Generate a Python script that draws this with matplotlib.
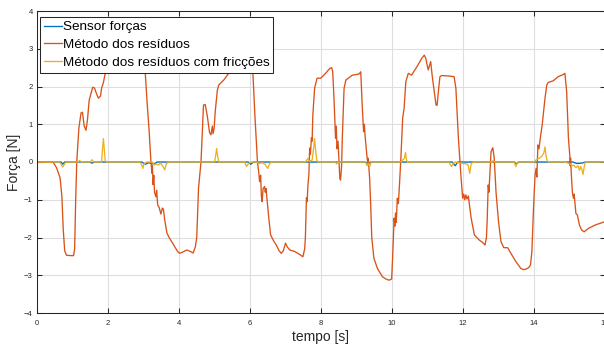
import matplotlib
matplotlib.use("Agg")
import matplotlib.pyplot as plt

plt.rcParams['font.family'] = ['Liberation Sans', 'DejaVu Sans']

# sensor de força (quase sempre zero)
t_sensor = [0, 0.68, 0.72, 0.78, 1.48, 1.55, 1.62, 2.95, 3.05, 3.15, 3.3, 3.38,
            5.95, 6.02, 6.1, 9.25, 9.32, 9.4, 11.7, 11.78, 11.85, 13.45, 13.5,
            13.58, 15.1, 15.2, 15.35, 15.45, 16]
f_sensor = [0, 0, -0.06, 0, 0, -0.03, 0, 0, -0.06, -0.02, -0.06, 0,
            0, -0.06, 0, 0, -0.05, 0, 0, -0.1, 0, 0, -0.05,
            0, 0, -0.04, -0.03, 0, 0]

# método dos resíduos
t_res = [0.0, 0.45, 0.55, 0.65, 0.70, 0.74, 0.78, 0.83, 0.95, 1.03, 1.06, 1.09,
         1.12, 1.18, 1.24, 1.28, 1.33, 1.38, 1.42, 1.47, 1.57, 1.62, 1.68, 1.73,
         1.79, 1.82, 1.87, 1.94, 2.0, 2.2, 2.5, 2.8, 2.95, 3.0,
         3.04, 3.10, 3.16, 3.21, 3.24, 3.25, 3.27, 3.29, 3.31, 3.35, 3.37, 3.40,
         3.44, 3.49, 3.53, 3.56, 3.60, 3.66, 3.72, 3.82, 3.96, 4.02, 4.12, 4.22,
         4.32, 4.40, 4.46, 4.50, 4.55, 4.62, 4.69, 4.74, 4.80, 4.86, 4.90, 4.94,
         4.96, 4.99, 5.02, 5.08, 5.12, 5.26, 5.40, 5.6, 5.8, 5.95, 6.02,
         6.08, 6.14, 6.21, 6.25, 6.27, 6.30, 6.32, 6.34, 6.37, 6.41, 6.43, 6.45,
         6.49, 6.53, 6.58, 6.66, 6.74, 6.82, 6.88, 6.94, 7.00, 7.05, 7.12, 7.26,
         7.40, 7.49, 7.54, 7.56, 7.59, 7.61, 7.63, 7.66, 7.68, 7.70, 7.73, 7.75,
         7.77, 7.82, 7.89, 7.99, 8.10, 8.25, 8.30, 8.33, 8.37, 8.41, 8.43, 8.45,
         8.48, 8.53, 8.55, 8.58, 8.60, 8.65, 8.70, 8.88, 9.07, 9.12, 9.16, 9.20,
         9.22, 9.25, 9.30, 9.32, 9.33, 9.37, 9.40, 9.43, 9.49, 9.59, 9.73, 9.85,
         9.92, 9.99, 10.02, 10.06, 10.08, 10.10, 10.12, 10.15, 10.18, 10.21, 10.25,
         10.30, 10.34, 10.39, 10.46, 10.55, 10.70, 10.84, 10.91, 10.95, 11.02,
         11.09, 11.13, 11.24, 11.27, 11.31, 11.35, 11.40, 11.59, 11.75, 11.80,
         11.87, 11.92, 11.94, 11.96, 11.99, 12.02, 12.05, 12.08, 12.11, 12.15,
         12.19, 12.23, 12.32, 12.46, 12.55, 12.62, 12.66, 12.68, 12.71, 12.73,
         12.79, 12.84, 12.88, 12.93, 13.00, 13.07, 13.15, 13.26, 13.35, 13.49,
         13.63, 13.70, 13.77, 13.85, 13.90, 13.94, 13.99, 14.03, 14.06, 14.08,
         14.11, 14.14, 14.19, 14.23, 14.26, 14.31, 14.36, 14.40, 14.54, 14.68,
         14.83, 14.87, 14.92, 14.97, 15.01, 15.02, 15.03, 15.05, 15.08, 15.11,
         15.13, 15.18, 15.22, 15.28, 15.34, 15.41, 15.53, 15.72, 16.0]
f_res = [0, 0, -0.15, -0.42, -0.9, -1.8, -2.35, -2.47, -2.48, -2.48, -2.3, -1.0,
         0.0, 0.9, 1.3, 1.32, 0.95, 0.84, 1.1, 1.64, 1.98, 1.96, 1.8, 1.69,
         1.75, 1.96, 2.1, 2.44, 2.62, 2.75, 2.85, 2.9, 2.85, 2.7,
         2.5, 1.6, 0.8, 0.0, -0.3, -0.1, -0.6, -0.35, -0.8, -0.92, -0.75, -1.14,
         -1.2, -1.38, -1.22, -1.25, -1.55, -1.88, -2.0, -2.15, -2.37, -2.42, -2.38, -2.33,
         -2.37, -2.41, -2.25, -2.0, -0.69, 0.0, 1.51, 1.52, 1.2, 0.78, 0.72, 0.95,
         0.75, 0.9, 1.33, 1.9, 2.04, 2.17, 2.35, 2.6, 2.75, 2.7, 2.5,
         2.39, 1.2, 0.0, -0.3, -0.52, -0.35, -0.9, -1.05, -0.7, -0.65, -0.8, -0.7,
         -1.1, -1.49, -1.93, -2.08, -2.2, -2.35, -2.42, -2.35, -2.15, -2.25, -2.33, -2.37,
         -2.45, -2.51, -2.3, -2.0, -0.95, -1.05, -0.65, -0.3, 0.37, 0.2, 0.64, 0.55,
         1.24, 1.96, 2.22, 2.22, 2.32, 2.48, 2.5, 2.4, 1.6, 0.63, 0.95, 0.35,
         0.55, -0.43, -0.48, -0.1, 0.63, 1.95, 2.17, 2.3, 2.33, 2.39, 1.51, 0.8,
         1.0, 0.6, 0.1, -0.05, 0.1, -0.43, -1.14, -2.0, -2.55, -2.82, -3.04, -3.11,
         -3.13, -3.1, -2.47, -1.49, -1.7, -1.35, -1.6, -0.96, -1.1, -0.61, 0.1,
         1.16, 1.42, 2.13, 2.35, 2.3, 2.52, 2.75, 2.83, 2.75, 2.44,
         2.66, 2.3, 1.51, 1.5, 1.9, 2.26, 2.29, 2.28, 2.26, 1.95,
         0.63, -0.08, -0.34, -0.6, -0.96, -0.85, -1.0, -0.87, -0.98, -0.9,
         -1.2, -1.49, -1.93, -2.07, -2.13, -2.2, -2.0, -1.58, -0.61, -0.8,
         0.27, 0.38, 0.1, -0.79, -1.58, -2.11, -2.27, -2.27, -2.42, -2.64,
         -2.82, -2.85, -2.84, -2.8, -2.73, -2.38, -1.14, -0.34, -0.17, -0.4,
         0.45, 0.35, 0.72, 0.98, 1.24, 1.69, 2.04, 2.11, 2.15, 2.26,
         2.32, 2.35, 1.86, 0.63, 0.15, -0.1, 0.1, -0.3, -0.79, -0.96,
         -0.85, -1.36, -1.4, -1.67, -1.80, -1.85, -1.76, -1.67, -1.58]

# método dos resíduos com fricções
t_fric = [0, 0.62, 0.68, 0.72, 0.76, 0.80, 0.86, 1.15, 1.2, 1.25, 1.5, 1.55, 1.6,
          1.82, 1.85, 1.87, 1.89, 1.92, 1.95, 2.9, 2.95, 2.98, 3.01, 3.08, 3.25,
          3.3, 3.35, 3.42, 3.48, 3.55, 3.6, 3.64, 3.7, 5.0, 5.03, 5.06, 5.09, 5.12,
          5.85, 5.9, 5.95, 6.0, 6.2, 6.25, 6.35, 6.42, 6.5, 6.55, 6.6, 7.55, 7.6,
          7.63, 7.67, 7.75, 7.79, 7.82, 7.85, 7.88, 7.92, 8.4, 8.44, 8.48, 9.25,
          9.3, 9.33, 9.37, 9.42, 10.25, 10.3, 10.35, 10.38, 10.41, 10.45, 10.5,
          11.6, 11.68, 11.73, 11.78, 11.92, 12.1, 12.15, 12.19, 12.23, 12.3,
          12.82, 12.85, 12.9, 13.44, 13.49, 13.54, 14.0, 14.05, 14.15, 14.22,
          14.28, 14.31, 14.34, 14.38, 14.42, 14.9, 14.95, 15.02, 15.08, 15.12,
          15.18, 15.24, 15.28, 15.31, 15.35, 15.38, 15.42, 15.45, 16.0]
f_fric = [0, 0, -0.05, -0.13, -0.08, -0.02, 0, 0, 0.04, 0, 0, 0.06, 0,
          0, 0.4, 0.62, 0.4, 0.05, 0, 0, -0.08, -0.17, -0.05, 0, 0,
          -0.08, -0.05, -0.08, -0.03, -0.12, -0.21, -0.05, 0, 0, 0.15, 0.36, 0.15, 0,
          0, -0.12, -0.05, 0, 0, -0.04, -0.02, -0.06, -0.17, -0.05, 0, 0, 0.05,
          0.1, 0.02, 0.05, 0.35, 0.62, 0.3, 0.05, 0, 0, -0.05, 0, 0,
          -0.1, -0.03, -0.12, 0, 0, 0.05, 0.1, 0.25, 0.05, -0.02, 0,
          0, -0.12, -0.02, 0, -0.03, -0.05, -0.1, -0.3, -0.05, 0,
          0, 0.04, 0, 0, -0.12, 0, 0, 0.05, 0.1, 0.15,
          0.25, 0.4, 0.15, 0.02, 0, 0, -0.03, -0.05, -0.1, -0.08,
          -0.15, -0.1, -0.22, -0.12, -0.2, -0.33, -0.1, 0, 0]

fig = plt.figure(figsize=(6.04, 3.46), dpi=100)
ax = fig.add_axes([37 / 604, 33 / 346, 568 / 604, 302 / 346])

ax.plot(t_sensor, f_sensor, color='#0072BD', lw=0.95, label='Sensor forças')
ax.plot(t_res, f_res, color='#D95319', lw=0.95, label='Método dos resíduos')
ax.plot(t_fric, f_fric, color='#EDB120', lw=0.95, label='Método dos resíduos com fricções')

ax.set_xlim(0, 16)
ax.set_ylim(-4, 4)
ax.set_xticks(range(0, 17, 2))
ax.set_yticks(range(-4, 5))
ax.grid(True, color='#dedede', lw=0.8)
ax.set_axisbelow(True)
ax.tick_params(direction='in', length=3.5, width=0.75, top=True, right=True,
               labelsize=5.5, colors='#262626', pad=3)
ax.tick_params(axis='x', pad=5)
for s in ax.spines.values():
    s.set_color('#262626')
    s.set_linewidth(0.75)

ax.set_xlabel('tempo [s]', fontsize=10, color='#262626', labelpad=2)
ax.set_ylabel('Força [N]', fontsize=10, color='#262626', labelpad=2)

leg = ax.legend(loc='upper left', bbox_to_anchor=(3 / 568, 1 - 6 / 302),
                borderaxespad=0, fontsize=9.7, handlelength=1.3,
                handletextpad=0.08, borderpad=0.3, labelspacing=0.38,
                fancybox=False, framealpha=1)
leg.get_frame().set_edgecolor('#262626')
leg.get_frame().set_linewidth(0.75)

fig.savefig('out.png', dpi=100)
